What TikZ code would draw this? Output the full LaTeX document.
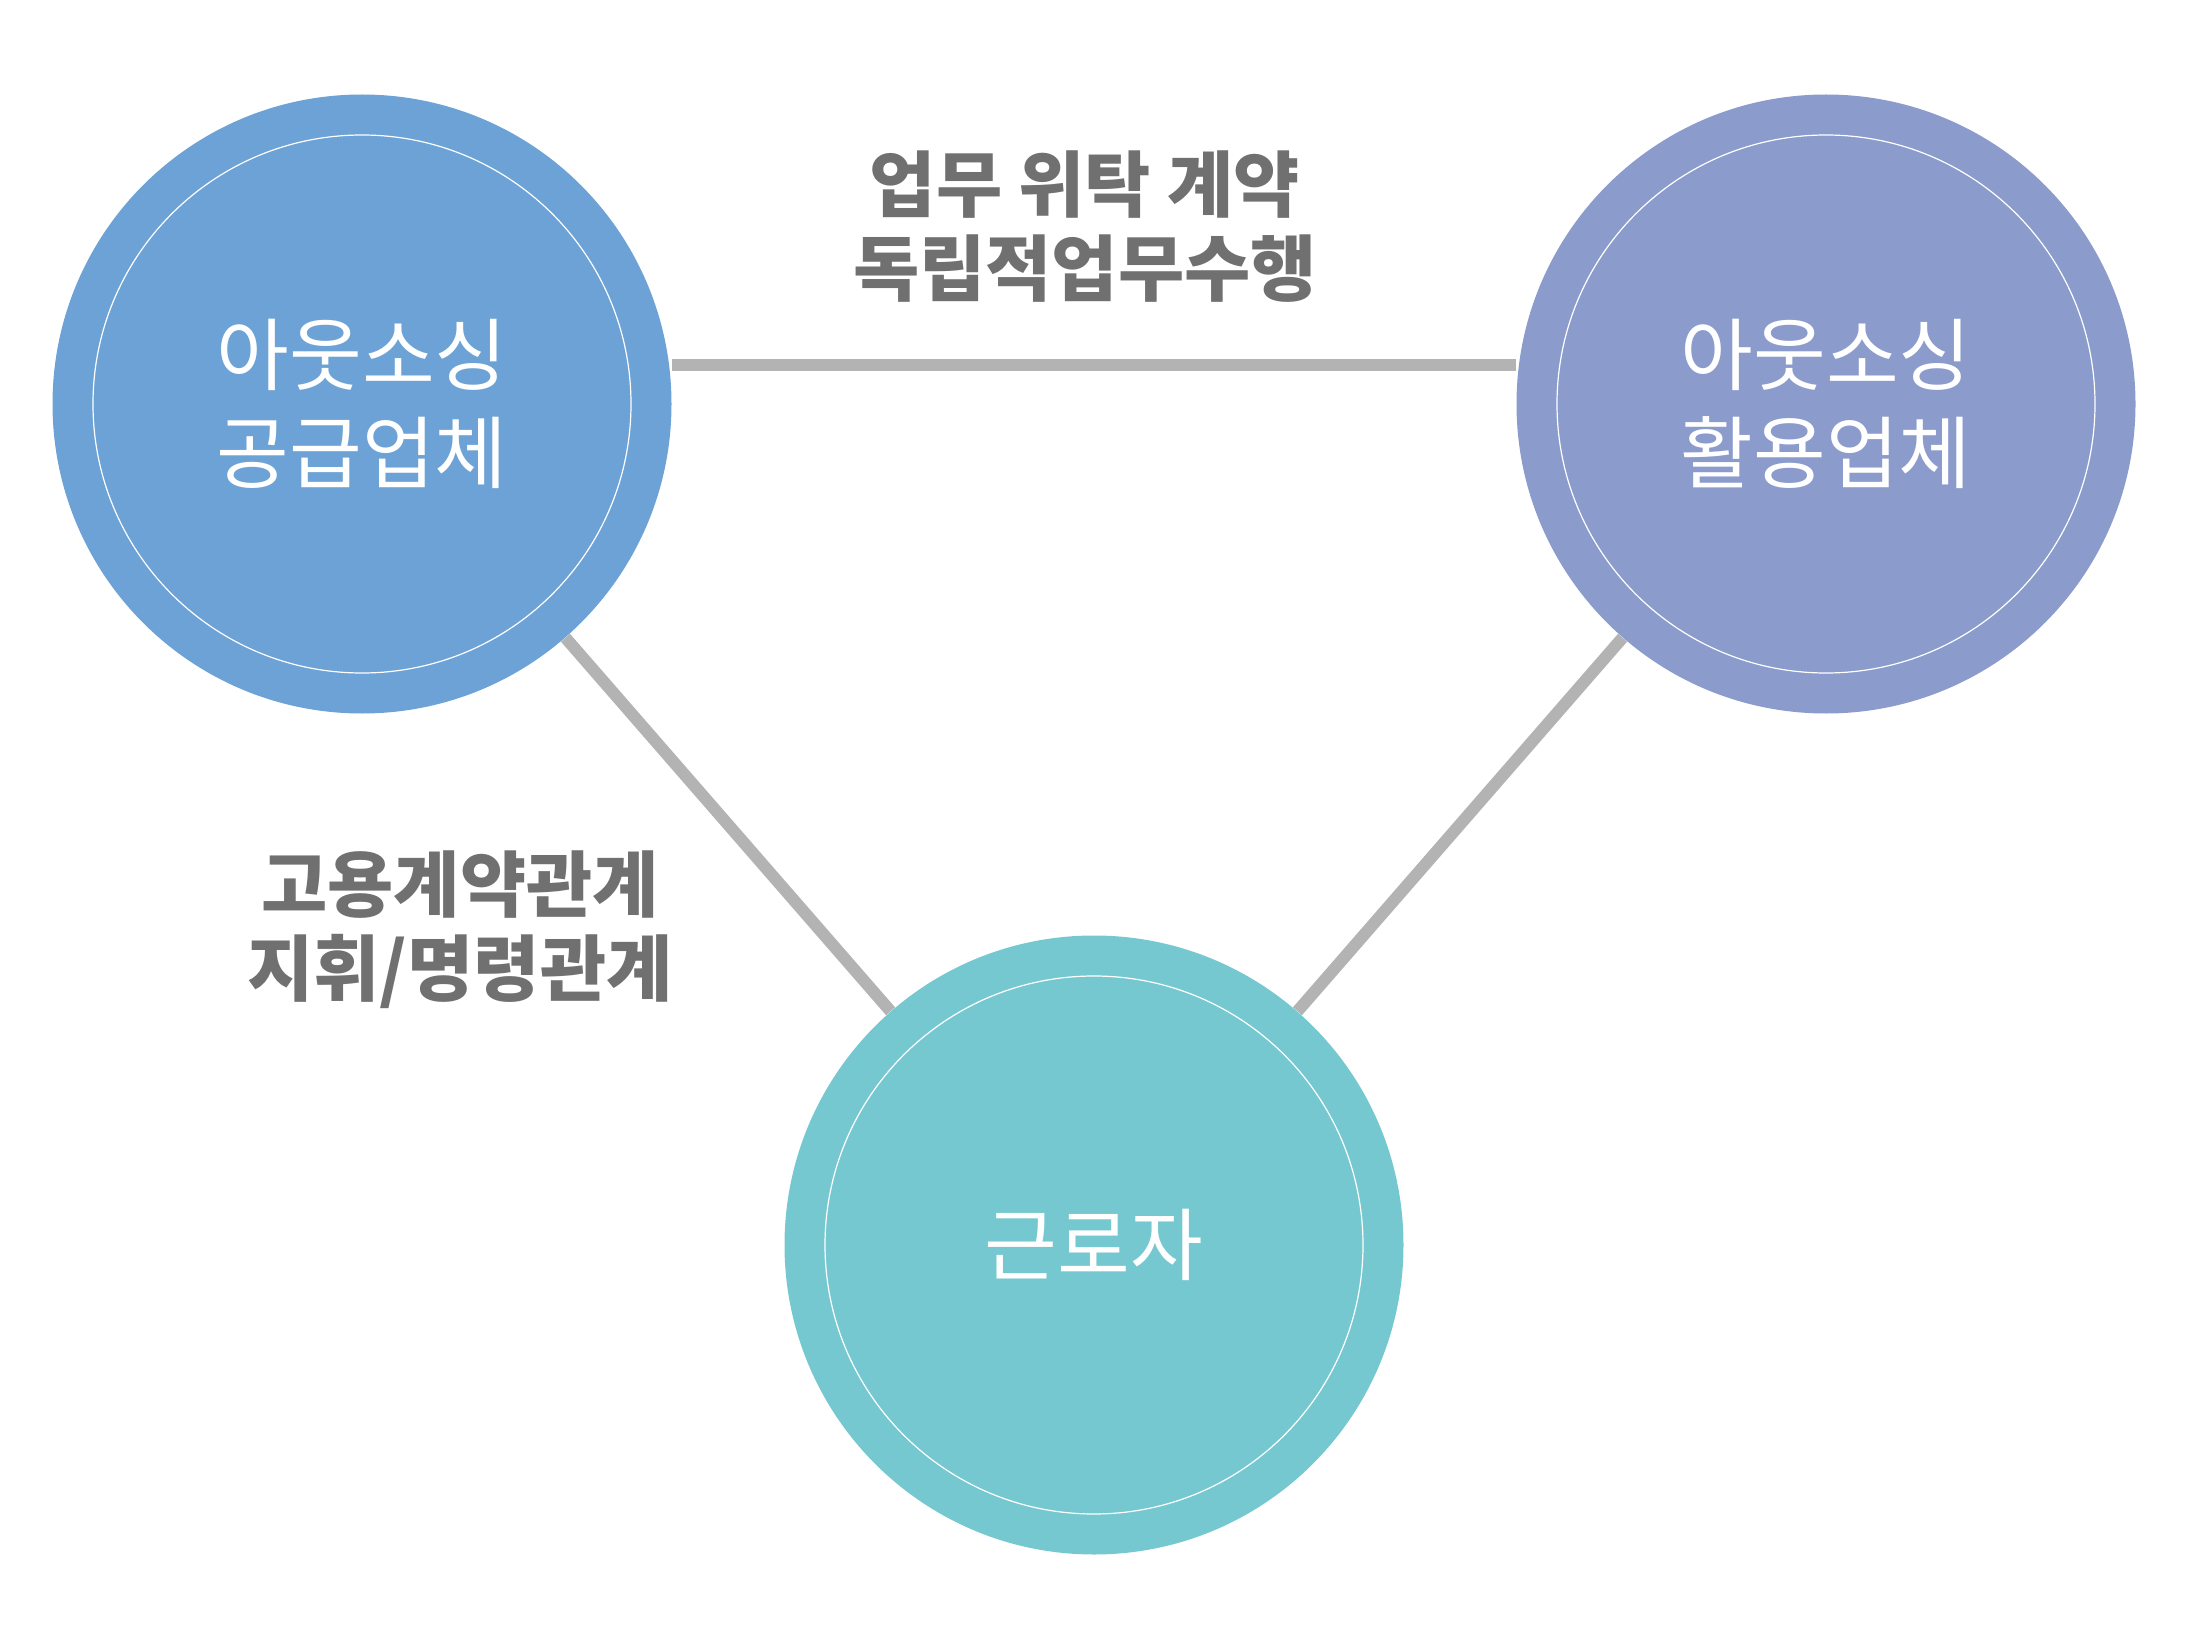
\documentclass[tikz,border=0pt]{standalone}
\usepackage{fontspec}
\setmainfont{Noto Sans CJK KR}
\usepackage{tikz}
\usetikzlibrary{positioning,backgrounds,calc}
\definecolor{supplierblue}{HTML}{6CA2D5}
\definecolor{userviolet}{HTML}{8A9BCC}
\definecolor{workerteal}{HTML}{76C8D0}
\definecolor{linkgray}{HTML}{B3B3B3}
\definecolor{labelgray}{HTML}{707070}
\tikzset{
  party/.style = {circle, minimum size=309.5pt, inner sep=0pt, align=center,
                  text=white, font=\fontsize{39.5}{49}\selectfont},
  ring/.style  = {draw=white, line width=0.6pt},
  link/.style  = {draw=linkgray, line width=6pt},
  relation/.style = {align=center, text=labelgray,
                  font=\bfseries\fontsize{36}{42}\selectfont},
}

\begin{document}
\begin{tikzpicture}[x=0.5pt, y=-0.5pt]
  \useasboundingbox (0,0) rectangle (2186,1648);
  \node[party, fill=supplierblue] (supplier) at (362,404) {아웃소싱\\공급업체};
  \node[party, fill=userviolet]   (user)     at (1826,404) {아웃소싱\\활용업체};
  \node[party, fill=workerteal]   (worker)   at (1094,1245) {근로자};
  % inner rings
  \draw[ring] (supplier) circle[radius=269];
  \draw[ring] (user) circle[radius=269];
  \draw[ring] (worker) circle[radius=269];
  \begin{scope}[on background layer]
    \draw[link] ([yshift=19.5pt]supplier.east) -- ([yshift=19.5pt]user.west);
    \draw[link] (supplier) -- (worker); \draw[link] (user) -- (worker);
  \end{scope}
  \node[relation] (contract) at (1085,227) {업무 위탁 계약\\독립적업무수행};
  \node[relation] (employ)   at (460,930)  {고용계약관계\\지휘/명령관계};
\end{tikzpicture}
\end{document}
